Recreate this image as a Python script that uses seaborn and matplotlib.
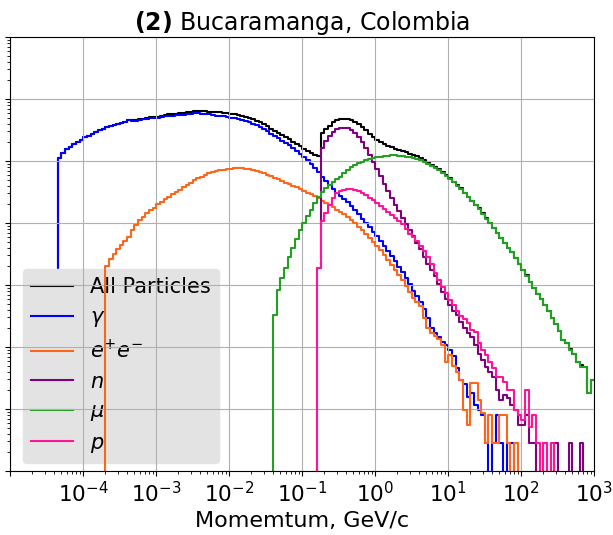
import numpy as np
import pandas as pd
import matplotlib
matplotlib.use("Agg")
import matplotlib.pyplot as plt
from matplotlib.patches import Polygon
from matplotlib.ticker import LogLocator, NullFormatter, FixedLocator, FixedFormatter
import seaborn as sns

# ---------------- data (log10 of counts per bin, 20 log-bins per decade) ----
decade_lo, decade_hi = -5, 3
bins_per_decade = 20

labels = ["All Particles", r"$\gamma$", r"$e^{+}e^{-}$", r"$n$", r"$\mu$", r"$p$"]
colors = ["#000000", "#0000ff", "#ff6619", "#800080", "#22a022", "#ff1493"]

gamma_start = -4.35
gamma_log = [5.05, 5.13, 5.19, 5.23, 5.27, 5.31, 5.34, 5.38, 5.40, 5.43,
             5.47, 5.50, 5.52, 5.55, 5.56, 5.58, 5.60, 5.61, 5.63, 5.66,
             5.65, 5.65, 5.66, 5.67, 5.68, 5.69, 5.69, 5.70, 5.71, 5.72,
             5.73, 5.73, 5.74, 5.74, 5.75, 5.76, 5.76, 5.77, 5.77, 5.76,
             5.76, 5.75, 5.74, 5.73, 5.73, 5.72, 5.71, 5.70, 5.69, 5.68,
             5.66, 5.65, 5.63, 5.60, 5.58, 5.55, 5.52, 5.48, 5.44, 5.40,
             5.37, 5.33, 5.29, 5.26, 5.21, 5.16, 5.11, 5.06, 5.01, 4.95,
             4.89, 4.82, 4.74, 4.68, 4.61, 4.55, 4.49, 4.44, 4.39, 4.34,
             4.27, 4.21, 4.14, 4.06, 4.00, 3.93, 3.86, 3.79, 3.71, 3.63,
             3.55, 3.47, 3.39, 3.29, 3.21, 3.11, 3.02, 2.90, 2.82, 2.73,
             2.61, 2.47, 2.31, 2.23, 2.16,
             2.08, 2.03, 1.95, 1.85, 1.66, 1.47, 1.40, 1.19, 1.26, 1.06,
             0.98, 0.90, 0.45, None, 0.45, 0.90, 0.45, None, 0.45, 0.45]

ee_start = -3.70
ee_log = [3.31, 3.42, 3.50, 3.58, 3.65, 3.71, 3.77, 3.89, 3.97, 4.05,
          4.10, 4.16, 4.21, 4.25, 4.30, 4.34, 4.38, 4.42, 4.46, 4.50,
          4.54, 4.58, 4.62, 4.65, 4.69, 4.73, 4.75, 4.77, 4.80, 4.82,
          4.84, 4.85, 4.86, 4.87, 4.87, 4.88, 4.88, 4.88, 4.87, 4.87,
          4.85, 4.84, 4.82, 4.81, 4.78, 4.76, 4.73, 4.71, 4.68, 4.65,
          4.63, 4.60, 4.58, 4.55, 4.52, 4.49, 4.46, 4.43, 4.40, 4.35,
          4.32, 4.29, 4.25, 4.21, 4.18, 4.14, 4.10, 4.05, 4.00, 3.94,
          3.89, 3.82, 3.76, 3.69, 3.63, 3.56, 3.48, 3.40, 3.32, 3.24,
          3.16, 3.08, 2.98, 2.89, 2.79, 2.73, 2.66, 2.47, 2.31, 2.23,
          2.18, 2.13, 2.03, 1.76, 1.87, 1.69, 1.60, 1.47, 0.98, 0.74,
          1.42, 1.42, 1.15, 0.94, 0.45, 0.90, 0.45, 0.45, 0.90, 0.90,
          0.45, None, 0.45]

n_start = -0.80
n_log = [3.27,
         5.21, 5.32, 5.40, 5.47, 5.51, 5.53, 5.53, 5.53, 5.50, 5.45,
         5.39, 5.31, 5.21, 5.10, 4.98, 4.87, 4.76, 4.63, 4.52, 4.40,
         4.29, 4.19, 4.08, 3.98, 3.89, 3.79, 3.68, 3.58, 3.45, 3.34,
         3.24, 3.15, 3.02, 2.89, 2.77, 2.68, 2.58, 2.52, 2.40, 2.31,
         2.23, 2.16, 2.03, 1.89, 1.79, 1.68, 1.60, 1.52, 1.31, 1.15,
         1.23, 1.18, 1.06, 0.98, 0.75, 0.75, 0.90, 0.45, 0.45, None,
         None, 0.45, None, None, 0.45, None, None, None, 0.45, None,
         None, 0.45]

mu_start = -1.40
mu_log = [2.52, 2.92, 3.11, 3.27, 3.45, 3.60, 3.74, 3.89, 4.00, 4.11,
          4.21, 4.32, 4.42, 4.50, 4.56, 4.61, 4.66, 4.71, 4.75, 4.81,
          4.85, 4.90, 4.94, 4.97, 4.99, 5.02, 5.03, 5.05, 5.06, 5.07,
          5.08, 5.08, 5.09, 5.09, 5.08, 5.08, 5.07, 5.06, 5.05, 5.03,
          5.01, 4.98, 4.95, 4.92, 4.89, 4.85, 4.81, 4.76, 4.71, 4.66,
          4.60, 4.55, 4.48, 4.42, 4.35, 4.29, 4.23, 4.15, 4.07, 4.00,
          3.92, 3.84, 3.76, 3.68, 3.60, 3.53, 3.44, 3.34, 3.24, 3.15,
          3.05, 2.95, 2.85, 2.77, 2.68, 2.58, 2.47, 2.37, 2.26, 2.11,
          2.06, 1.95, 1.89, 1.76, 1.68, 1.68, 1.26, 1.47]

p_start = -0.80
p_log = [3.27,
         4.03, 4.16, 4.29, 4.40, 4.48, 4.52, 4.54, 4.55, 4.55, 4.54,
         4.52, 4.48, 4.45, 4.41, 4.37, 4.32, 4.27, 4.23, 4.18, 4.13,
         4.08, 4.03, 3.98, 3.90, 3.82, 3.77, 3.71, 3.63, 3.55, 3.45,
         3.34, 3.19, 3.08, 2.97, 2.87, 2.76, 2.68, 2.58, 2.50, 2.45,
         2.39, 2.27, 2.24, 2.06, 1.95, 1.87, 1.76, 1.66, 1.52, 1.52,
         1.44, 1.31, 1.31, 0.98, 0.90, 0.82, 1.31, 0.71, 0.90, 0.45,
         None, 0.45, None, 0.45]

# ---------------- binning --------------------------------------------------
n_bins = (decade_hi - decade_lo) * bins_per_decade
edges = 10.0 ** np.linspace(decade_lo, decade_hi, n_bins + 1)
centers = np.sqrt(edges[:-1] * edges[1:])


def to_counts(start, logs):
    counts = np.zeros(n_bins)
    i0 = int(round((start - decade_lo) * bins_per_decade))
    for j, v in enumerate(logs):
        if v is not None:
            counts[i0 + j] = 10.0 ** v
    return counts


gamma = to_counts(gamma_start, gamma_log)
ee = to_counts(ee_start, ee_log)
neutron = to_counts(n_start, n_log)
muon = to_counts(mu_start, mu_log)
proton = to_counts(p_start, p_log)
all_particles = gamma + ee + neutron + muon + proton

series = [all_particles, gamma, ee, neutron, muon, proton]
zorders = [1.1, 1.15, 2.0, 2.1, 2.2, 2.3]

# ---------------- figure ---------------------------------------------------
W, H = 613, 535
fig = plt.figure(figsize=(W / 100, H / 100), dpi=100)
ax_l, ax_r, ax_t, ax_b = 10.3, 594.3, 37, 471
ax = fig.add_axes([ax_l / W, 1 - ax_b / H, (ax_r - ax_l) / W, (ax_b - ax_t) / H])

for counts, lab, col, z in zip(series, labels, colors, zorders):
    df = pd.DataFrame({"momentum": centers, "count": counts})
    sns.histplot(data=df, x="momentum", weights="count", bins=list(edges),
                 element="step", fill=False, color=col, linewidth=1.5,
                 label=lab, zorder=z, ax=ax)

ax.set_xscale("log")
ax.set_yscale("log")
ax.set_xlim(10.0 ** decade_lo, 10.0 ** decade_hi)
ax.set_ylim(1, 1e7)

# the photon / total rising edge is cut where the legend box begins
clip_poly = Polygon([(1e-5, 1e8), (1e-5, 10 ** 3.24), (10 ** -3.75, 10 ** 3.24),
                     (10 ** -3.75, 1e-3), (1e4, 1e-3), (1e4, 1e8)],
                    closed=True, transform=ax.transData, fill=False,
                    visible=False)
ax.add_patch(clip_poly)
for line in ax.lines[:2]:
    line.set_clip_path(clip_poly)

xt = 10.0 ** np.arange(decade_lo, decade_hi + 1)
ax.xaxis.set_major_locator(FixedLocator(xt))
ax.xaxis.set_major_formatter(FixedFormatter(
    [""] + [r"$10^{%d}$" % e for e in range(decade_lo + 1, decade_hi + 1)]))
ax.xaxis.set_minor_locator(LogLocator(base=10, subs=np.arange(2, 10), numticks=100))
ax.xaxis.set_minor_formatter(NullFormatter())
ax.yaxis.set_major_locator(LogLocator(base=10, numticks=20))
ax.yaxis.set_minor_locator(LogLocator(base=10, subs=np.arange(2, 10), numticks=100))
ax.yaxis.set_minor_formatter(NullFormatter())
ax.tick_params(axis="y", which="both", labelleft=False)
ax.tick_params(axis="x", which="major", labelsize=15.5)
ax.set_ylabel("")
ax.set_xlabel("Momemtum, GeV/c", fontsize=16)
ax.set_title(r"$\bf{(2)}$ Bucaramanga, Colombia", fontsize=17, pad=5)
ax.grid(True, which="major", color="#b0b0b0", linewidth=0.8)

handles, labs = ax.get_legend_handles_labels()
leg = ax.legend(handles, labs, loc="lower left",
                bbox_to_anchor=((23 - ax_l) / (ax_r - ax_l), (ax_b - 463) / (ax_b - ax_t)),
                borderaxespad=0, fontsize=15, facecolor="#e3e3e3",
                edgecolor="#e3e3e3", framealpha=1, fancybox=True,
                labelspacing=0.46)
leg.set_zorder(1.2)

fig.savefig("out.png", dpi=100)
